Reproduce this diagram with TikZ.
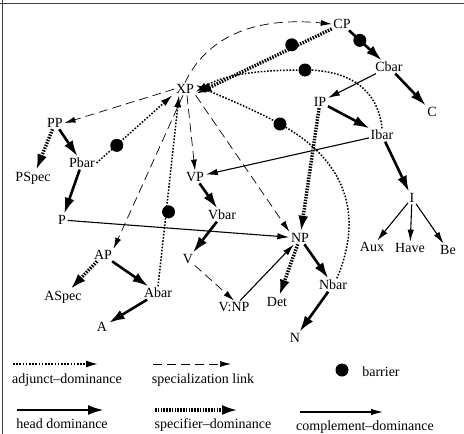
\documentclass[tikz,border=0pt]{standalone}
\usepackage{fontspec}
\setmainfont{Liberation Serif}
\usetikzlibrary{arrows.meta,calc}
\begin{document}
\begin{tikzpicture}[x=1pt,y=-1pt,
  lbl/.style={font=\fontsize{14}{16}\selectfont, inner sep=1.5pt},
  specl/.style={line width=0.7pt, dash pattern=on 9pt off 5pt, -{Latex[length=11pt,width=6pt]}},
  adjd/.style={line width=1.5pt, dash pattern=on 1.6pt off 1.6pt, -{Latex[length=12pt,width=7pt]}},
  headd/.style={line width=2.6pt, -{Latex[length=16pt,width=10pt]}},
  specd/.style={line width=3.4pt, dash pattern=on 1.5pt off 1.3pt, -{Latex[length=16pt,width=10pt]}},
  compd/.style={line width=1.1pt, -{Latex[length=12pt,width=6.5pt]}},
  barrierdot/.style={circle, fill=black, inner sep=0pt, minimum size=13pt},
  framel/.style={line width=1pt, black!75}
]
\useasboundingbox (0,0) rectangle (464,434);
\draw[framel] (0,3) -- (464,3);
\draw[framel] (2,0) -- (2,434);

% nodes
\node[lbl] (CP) at (342,24) {CP};
\node[lbl] (Cbar) at (389,67) {Cbar};
\node[lbl] (C) at (432,112) {C};
\node[lbl] (XP) at (185,89) {XP};
\node[lbl] (IP) at (320,102) {IP};
\node[lbl] (Ibar) at (382,135) {Ibar};
\node[lbl] (I) at (412,198) {I};
\node[lbl] (Aux) at (372,247) {Aux};
\node[lbl] (Have) at (410,248) {Have};
\node[lbl] (Be) at (448,250) {Be};
\node[lbl] (PP) at (55,123) {PP};
\node[lbl] (Pbar) at (82,163) {Pbar};
\node[lbl] (PSpec) at (33,178) {PSpec};
\node[lbl] (P) at (62,220) {P};
\node[lbl] (VP) at (195,177) {VP};
\node[lbl] (Vbar) at (222,215) {Vbar};
\node[lbl] (V) at (188,259) {V};
\node[lbl] (VNP) at (234,307) {V:NP};
\node[lbl] (NP) at (300,238) {NP};
\node[lbl] (Det) at (277,302) {Det};
\node[lbl] (Nbar) at (333,285) {Nbar};
\node[lbl] (N) at (295,338) {N};
\node[lbl] (AP) at (103,255) {AP};
\node[lbl] (ASpec) at (63,297) {ASpec};
\node[lbl] (Abar) at (158,293) {Abar};
\node[lbl] (A) at (102,327) {A};

% specialization links
\draw[specl] (XP.north) .. controls (205,40) and (250,16) .. (CP.west);
\draw[specl] (XP.west) -- (PP.east);
\draw[specl] ([xshift=-2pt]XP.south) -- (AP.north east);
\draw[specl] ([xshift=2pt]XP.south) -- (VP.north);
\draw[specl] (XP.south east) -- (NP.north west);
\draw[specl] (V.south east) -- (VNP.north);

% adjunct dominance
\coordinate (b3) at (305,70);
\coordinate (b4) at (280,124);
\draw[adjd] (Pbar.east) -- ([xshift=-2pt]XP.south west);
\draw[adjd] (Abar.north) -- ([xshift=-6pt]XP.south);
\draw[adjd] (Ibar.north) .. controls (378,90) and (350,70) .. (b3)
  .. controls (260,70) and (225,74) .. ([yshift=-3pt]XP.east);
\draw[adjd] (Nbar.60) .. controls (360,225) and (355,165) .. (b4)
  .. controls (255,110) and (225,98) .. ([yshift=4pt]XP.east);

% specifier dominance
\draw[specd] (CP) -- ([yshift=-5pt]XP.east);
\draw[specd] (PP) -- (PSpec);
\draw[specd] (IP) -- (NP);
\draw[specd] (NP) -- (Det);
\draw[specd] (AP) -- (ASpec);

% head dominance
\draw[headd] (CP) -- (Cbar);
\draw[headd] (Cbar) -- (C);
\draw[headd] (IP) -- (Ibar);
\draw[headd] (Ibar) -- (I);
\draw[headd] (PP) -- (Pbar);
\draw[headd] (Pbar) -- (P);
\draw[headd] (VP) -- (Vbar);
\draw[headd] (Vbar) -- (V);
\draw[headd] (AP) -- (Abar);
\draw[headd] (Abar) -- (A);
\draw[headd] (NP) -- (Nbar);
\draw[headd] (Nbar) -- (N);

% complement dominance
\draw[compd] (Cbar) -- (IP);
\draw[compd] (Ibar) -- (VP);
\draw[compd] (P) -- (NP);
\draw[compd] (VNP) -- (NP);
\draw[compd] (I) -- (Aux);
\draw[compd] (I) -- (Have);
\draw[compd] (I) -- (Be);

% barriers
\node[barrierdot] (bar1) at ($(Pbar.east)!0.26!(XP.south west)$) {};
\node[barrierdot] (bar2) at ($(Abar.north)!0.39!(XP.south)$) {};
\node[barrierdot] (bar3) at (b3) {};
\node[barrierdot] (bar4) at (b4) {};
\node[barrierdot] (bar5) at ($(CP)!0.32!(XP)$) {};
\node[barrierdot] (bar6) at ($(CP)!0.38!(Cbar)$) {};

% legend
\coordinate (l1a) at (13,364); \coordinate (l1b) at (98,364);
\coordinate (l2a) at (153,364); \coordinate (l2b) at (231,364);
\coordinate (l3a) at (17,410); \coordinate (l3b) at (104,410);
\coordinate (l4a) at (155,410); \coordinate (l4b) at (238,410);
\coordinate (l5a) at (300,412); \coordinate (l5b) at (383,412);
\draw[adjd] (l1a) -- (l1b);
\draw[specl] (l2a) -- (l2b);
\draw[headd] (l3a) -- (l3b);
\draw[specd] (l4a) -- (l4b);
\draw[compd] (l5a) -- (l5b);
\node[lbl] (t1) at (67,380) {adjunct--dominance};
\node[lbl] (t2) at (203,380) {specialization link};
\node[lbl] (t3) at (62,424) {head dominance};
\node[lbl] (t4) at (213,425) {specifier--dominance};
\node[lbl] (t5) at (365,427) {complement--dominance};
\node[barrierdot] (lb) at (342,370) {};
\node[lbl] (t6) at (381,372) {barrier};
\end{tikzpicture}
\end{document}
